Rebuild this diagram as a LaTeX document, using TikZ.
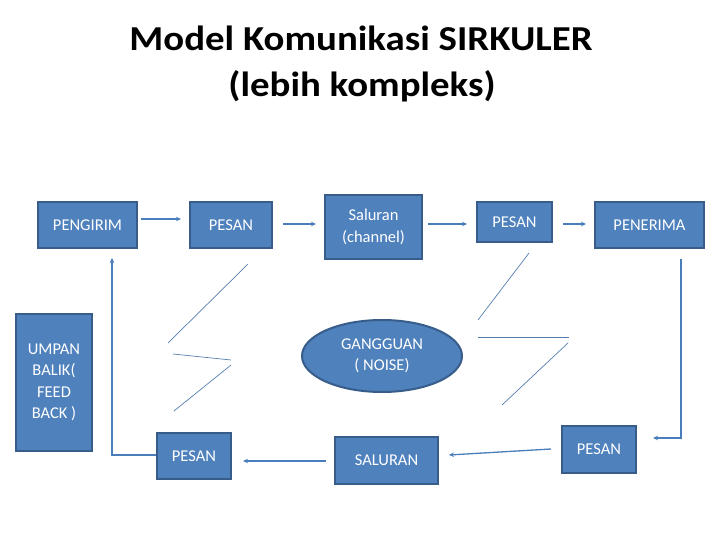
\documentclass[tikz,border=0pt]{standalone}
\usepackage{fontspec}
\setmainfont{Carlito}
\usetikzlibrary{arrows.meta,positioning,shapes.geometric}
\definecolor{boxfill}{HTML}{4F81BD}
\definecolor{boxline}{HTML}{385D8A}
\definecolor{conncol}{HTML}{4A7EBB}
\tikzset{
  box/.style={draw=boxline, fill=boxfill, line width=2pt, text=white, font=\fontsize{16.5}{21.5}\selectfont, align=center, inner sep=0pt},
  conn/.style={draw=conncol, line width=1.3pt, -{Stealth[length=5pt,width=4.5pt]}},
  zig/.style={draw=conncol!80!gray, line width=0.7pt},
  titlefont/.style={font=\fontsize{35}{46}\selectfont\bfseries, anchor=base, inner sep=0pt}
}
\begin{document}
\begin{tikzpicture}[x=1pt,y=-1pt]
\useasboundingbox (0,0) rectangle (720,540);
\node[titlefont] (title1) at (361,51) {\scalebox{1.11}[1]{Model Komunikasi SIRKULER}};
\node[titlefont] (title2) at (362,97) {\scalebox{1.11}[1]{(lebih kompleks)}};

\node[box, minimum width=99pt, minimum height=46pt] (pengirim) at (87.5,225) {PENGIRIM};
\node[box, minimum width=82pt, minimum height=46pt] (pesan1) at (231,225) {PESAN};
\node[box, minimum width=97pt, minimum height=64pt] (saluran) at (373.5,227) {Saluran\\(channel)};
\node[box, minimum width=75pt, minimum height=40pt] (pesan2) at (514.5,222) {PESAN};
\node[box, minimum width=109pt, minimum height=46pt] (penerima) at (649.5,225) {PENERIMA};
\node[box, minimum width=74pt, minimum height=47pt] (pesan3) at (599,449.5) {PESAN};
\node[box, minimum width=103pt, minimum height=47pt] (saluran2) at (386.5,460.5) {SALURAN};
\node[box, minimum width=74pt, minimum height=46pt] (pesan4) at (194,456) {PESAN};
\node[box, minimum width=76pt, minimum height=137pt] (umpan) at (54,382.5) {UMPAN\\BALIK(\\FEED\\BACK )};
\node[box, ellipse, minimum width=160pt, minimum height=72pt] (noise) at (382,356) {GANGGUAN\\( NOISE)};

% connectors
\draw[conn] ([xshift=3pt,yshift=6pt]pengirim.east) -- ([xshift=-8pt,yshift=6pt]pesan1.west);
\draw[conn] ([xshift=10pt,yshift=1pt]pesan1.east) -- ([xshift=-8pt,yshift=3pt]saluran.west);
\draw[conn] ([xshift=5pt,yshift=3pt]saluran.east) -- ([xshift=-9pt,yshift=-2pt]pesan2.west);
\draw[conn] ([xshift=10pt,yshift=-2pt]pesan2.east) -- ([xshift=-8pt,yshift=1pt]penerima.west);
\coordinate (rc) at (681,438);
\draw[conn] (681,259) -- (rc) -- ([xshift=16pt,yshift=11.5pt]pesan3.east);
\draw[conn] ([xshift=-10pt,yshift=0.5pt]pesan3.west) -- ([xshift=10pt,yshift=5.5pt]saluran2.east);
\draw[conn] ([xshift=-8pt,yshift=-0.5pt]saluran2.west) -- ([xshift=11pt,yshift=-5pt]pesan4.east);
\coordinate (lc) at (112,455);
\draw[conn] (pesan4.west |- lc) -- (lc) -- (112,258);

% noise zigzags
\draw[zig] (248,264) -- (168,343);
\draw[zig] (173,354) -- (231,360);
\draw[zig] (231,365) -- (174,411);
\draw[zig] (529,253) -- (478,320);
\draw[zig] (478,337) -- (569,337);
\draw[zig] (568,343) -- (502,405);
\end{tikzpicture}
\end{document}
